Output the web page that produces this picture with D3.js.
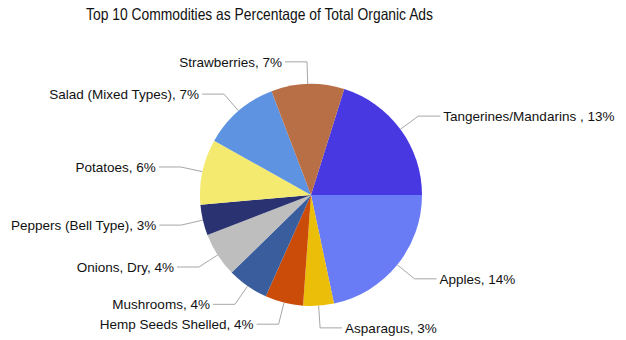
<!DOCTYPE html>
<html>
<head>
<meta charset="utf-8">
<script src="https://cdn.jsdelivr.net/npm/d3@7"></script>
<style>
  html, body { margin: 0; padding: 0; background: #fff; }
  svg { display: block; }
</style>
</head>
<body>
<svg id="chart" width="626" height="340"></svg>
<script>
const categories = ["Tangerines/Mandarins ", "Apples", "Asparagus", "Hemp Seeds Shelled", "Mushrooms", "Onions, Dry", "Peppers (Bell Type)", "Potatoes", "Salad (Mixed Types)", "Strawberries"];
const values = [13.1, 14.1, 2.9, 3.6, 3.9, 4.2, 2.9, 6.2, 7.2, 6.9];
const percentLabels = ["13%", "14%", "3%", "4%", "4%", "4%", "3%", "6%", "7%", "7%"];
const colors = ["#4838E2", "#6A7BF6", "#EBBE0A", "#CB4C08", "#3A5E9D", "#BEBEBE", "#2B3272", "#F4EA70", "#5E93E2", "#B86F45"];
const title = "Top 10 Commodities as Percentage of Total Organic Ads";

const W = 626, H = 340;
const cx = 311, cy = 195, R = 111;
const startDeg = 17.4;

const svg = d3.select("#chart");

svg.append("text")
  .attr("x", 86).attr("y", 20)
  .attr("text-anchor", "start")
  .attr("font-family", "'Liberation Sans Narrow', 'Liberation Sans', Arial, sans-serif")
  .attr("font-size", 16.5)
  .attr("textLength", 347)
  .attr("lengthAdjust", "spacingAndGlyphs")
  .attr("fill", "#111")
  .text(title);

const data = categories.map((c, i) => ({ name: c, value: values[i], pct: percentLabels[i], color: colors[i] }));

const pie = d3.pie().sort(null).value(d => d.value)
  .startAngle(startDeg * Math.PI / 180)
  .endAngle(startDeg * Math.PI / 180 + 2 * Math.PI);
const arcs = pie(data);
const arc = d3.arc().innerRadius(0).outerRadius(R);

const g = svg.append("g").attr("transform", `translate(${cx},${cy})`);

g.selectAll("path.slice").data(arcs).join("path")
  .attr("class", "slice")
  .attr("d", arc)
  .attr("fill", d => d.data.color);

const elbowR = R * 1.2;
const hLen = 22;
const gap = 3;

function pt(a, r) { return [Math.sin(a) * r, -Math.cos(a) * r]; }

arcs.forEach(d => {
  const mid = (d.startAngle + d.endAngle) / 2;
  const p0 = pt(mid, R);
  const p1 = pt(mid, elbowR);
  const right = Math.sin(mid) >= 0;
  const p2 = [p1[0] + (right ? hLen : -hLen), p1[1]];
  g.append("polyline")
    .attr("points", [p0, p1, p2].map(p => p.join(",")).join(" "))
    .attr("fill", "none")
    .attr("stroke", "#A6A6A6")
    .attr("stroke-width", 1);
  g.append("text")
    .attr("x", p2[0] + (right ? gap : -gap))
    .attr("y", p1[1])
    .attr("dy", "0.36em")
    .attr("text-anchor", right ? "start" : "end")
    .attr("font-family", "'Liberation Sans', Arial, sans-serif")
    .attr("font-size", 13.5)
    .attr("fill", "#111")
    .text(d.data.name + ", " + d.data.pct);
});
</script>
</body>
</html>
